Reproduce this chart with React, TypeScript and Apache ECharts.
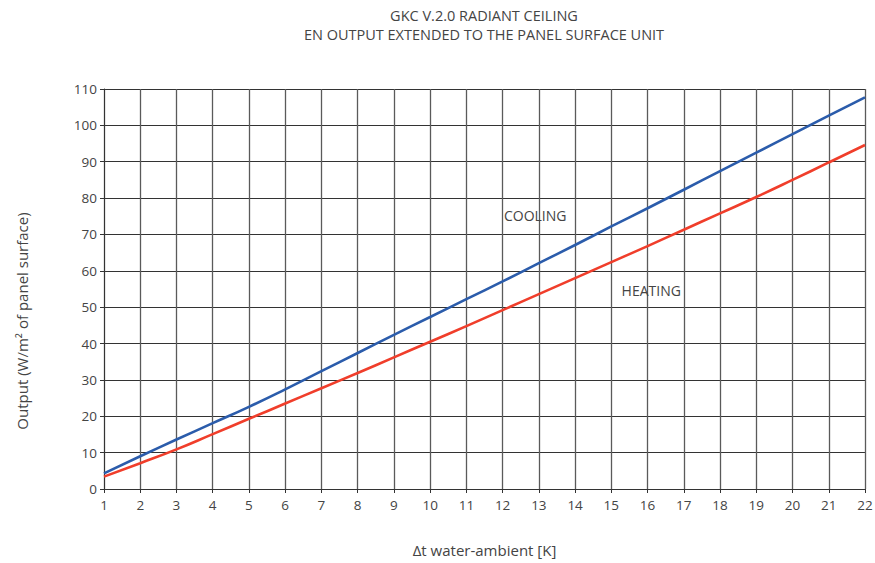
import React, { useEffect, useRef } from "react";
import * as echarts from "echarts";

const deltaT = [1, 2, 3, 4, 5, 6, 7, 8, 9, 10, 11, 12, 13, 14, 15, 16, 17, 18, 19, 20, 21, 22];
const cooling = [4.3, 9.0, 13.6, 18.1, 22.6, 27.4, 32.4, 37.4, 42.4, 47.3, 52.2, 57.1, 62.1, 67.1, 72.2, 77.2, 82.3, 87.4, 92.5, 97.6, 102.7, 107.7];
const heating = [3.4, 7.1, 10.9, 15.1, 19.3, 23.5, 27.7, 31.9, 36.2, 40.5, 44.8, 49.2, 53.6, 58.0, 62.4, 66.8, 71.3, 75.8, 80.3, 85.0, 89.8, 94.6];
const titleLines = ["GKC V.2.0 RADIANT CEILING", "EN OUTPUT EXTENDED TO THE PANEL SURFACE UNIT"];
const xName = "Δt water-ambient [K]";
const yName = "Output (W/m² of panel surface)";

const FONT = "'Open Sans', 'Noto Sans', sans-serif";
const TXT = "#444";

export default function App() {
  const ref = useRef<HTMLDivElement>(null);
  useEffect(() => {
    const chart = echarts.init(ref.current!, null, { renderer: "svg" });
    chart.setOption({
      animation: false,
      backgroundColor: "#fff",
      textStyle: { fontFamily: FONT },
      grid: { left: 104, right: 10, top: 89, bottom: 74, outerBoundsMode: "none", containLabel: false },
      xAxis: {
        type: "value",
        min: 1,
        max: 22,
        interval: 1,
        name: xName,
        nameLocation: "middle",
        nameGap: 53,
        nameTextStyle: { fontSize: 15, color: TXT, fontFamily: FONT },
        axisLine: { lineStyle: { color: "#333", width: 1 } },
        axisTick: { show: true, length: 4, lineStyle: { color: "#333" } },
        axisLabel: { fontSize: 13.5, color: TXT, margin: 9, fontFamily: FONT },
        splitLine: { show: true, lineStyle: { color: "#5a5a5a", width: 1.3 } },
      },
      yAxis: {
        type: "value",
        min: 0,
        max: 110,
        interval: 10,
        axisLine: { show: true, lineStyle: { color: "#333", width: 1 } },
        axisTick: { show: true, length: 4, lineStyle: { color: "#333" } },
        axisLabel: { fontSize: 13.5, color: TXT, margin: 7, fontFamily: FONT },
        splitLine: { show: true, lineStyle: { color: "#333", width: 1 } },
      },
      graphic: [
        {
          type: "text",
          x: 484,
          y: 15,
          style: { text: titleLines[0], fontSize: 14.5, fill: TXT, fontFamily: FONT, align: "center", verticalAlign: "middle" },
        },
        {
          type: "text",
          x: 484,
          y: 34,
          style: { text: titleLines[1], fontSize: 14.5, fill: TXT, fontFamily: FONT, align: "center", verticalAlign: "middle" },
        },
        {
          type: "text",
          x: 22,
          y: 321,
          rotation: Math.PI / 2,
          style: {
            text: yName,
            fontSize: 15,
            fill: TXT,
            fontFamily: FONT,
            align: "center",
            verticalAlign: "middle",
          },
        },
      ],
      series: [
        {
          name: "COOLING",
          type: "line",
          data: deltaT.map((x, i) => [x, cooling[i]]),
          showSymbol: false,
          smooth: true,
          lineStyle: { color: "#2b5cab", width: 2.6 },
          itemStyle: { color: "#2b5cab" },
          markPoint: {
            symbol: "circle",
            symbolSize: 0,
            label: { show: true, formatter: "COOLING", fontSize: 14, color: TXT, fontFamily: FONT, position: "inside" },
            data: [{ coord: [12.9, 75.1] }],
          },
        },
        {
          name: "HEATING",
          type: "line",
          data: deltaT.map((x, i) => [x, heating[i]]),
          showSymbol: false,
          smooth: true,
          lineStyle: { color: "#f03e2b", width: 2.6 },
          itemStyle: { color: "#f03e2b" },
          markPoint: {
            symbol: "circle",
            symbolSize: 0,
            label: { show: true, formatter: "HEATING", fontSize: 14, color: TXT, fontFamily: FONT, position: "inside" },
            data: [{ coord: [16.1, 54.6] }],
          },
        },
      ],
    });
    return () => chart.dispose();
  }, []);
  return <div ref={ref} style={{ width: 875, height: 563, position: "absolute", left: 0, top: 0 }} />;
}
